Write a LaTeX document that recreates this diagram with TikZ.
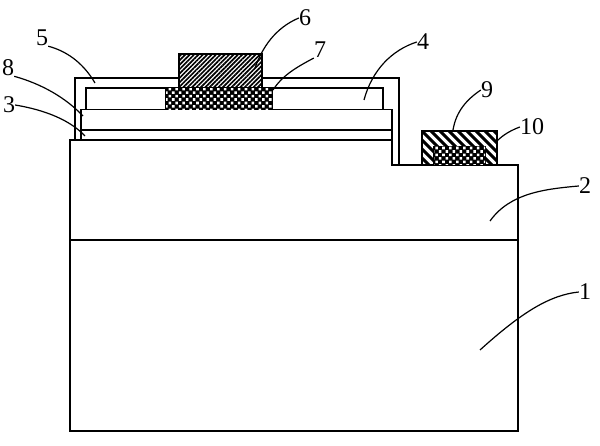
\documentclass[tikz,border=0pt]{standalone}
\usepackage{fontspec}
\setmainfont{Liberation Serif}
\usetikzlibrary{patterns.meta}
\tikzset{
  outline/.style={draw=black,line width=1.5pt,line join=miter},
  num/.style={font=\fontsize{24}{24}\selectfont,inner sep=0pt,text=black},
  leader/.style={draw=black,line width=1.2pt},
  hatchfine/.style={fill=white,postaction={pattern={Lines[angle=45,distance=3.1pt,line width=1.7pt]},pattern color=black}},
  hatchline/.style={draw=black,line width=3pt},
  checker/.style={fill=black,postaction={pattern={Dots[distance=4.9pt,angle=45,radius=1.8pt]},pattern color=white}}
}
\begin{document}
\begin{tikzpicture}[x=1pt,y=-1pt]
\useasboundingbox (0,0) rectangle (600,446);
% body
\draw[outline] (70,140) -- (392,140) -- (392,165) -- (518,165) -- (518,431) -- (70,431) -- cycle;
\draw[outline] (70,240) -- (518,240);
% layers
\draw[outline] (81,139) -- (81,109.5) -- (392,109.5) -- (392,140);
\draw[outline] (81,130) -- (392,130);
% covering layers
\draw[outline] (75,139) -- (75,78) -- (399,78) -- (399,165);
\draw[outline] (86,109) -- (86,88) -- (383,88) -- (383,109);
% electrodes
\draw[outline,hatchfine] (179,54) rectangle (262,88);
\draw[outline,checker] (166,88.5) rectangle (272,109.5);
\fill[white] (422,131) rectangle (497,165);
\begin{scope}
  \clip (422,131) rectangle (497,165);
  \foreach \hx in {386,395,...,503} {
    \draw[hatchline] (\hx,131) -- (\hx+34,165);
  }
\end{scope}
\draw[line width=2pt] (422,131) rectangle (497,165);
\draw[line width=2pt,checker] (434,147) rectangle (485,165);
% labels
\node[num] (n1) at (585,292) {1};
\node[num] (n2) at (585,186) {2};
\node[num] (n3) at (9,105) {3};
\node[num] (n4) at (423,42) {4};
\node[num] (n5) at (42,38) {5};
\node[num] (n6) at (305,18) {6};
\node[num] (n7) at (320,50) {7};
\node[num] (n8) at (8,68) {8};
\node[num] (n9) at (487,90) {9};
\node[num] (n10) at (532,127) {10};
% leader ends
\coordinate (e1) at (480,350);
\coordinate (e2) at (490,221);
\coordinate (e3) at (85,136);
\coordinate (e4) at (364,100);
\coordinate (e5) at (95,83);
\coordinate (e6) at (255,68);
\coordinate (e7) at (273,90);
\coordinate (e8) at (83,116);
\coordinate (e9) at (453,130);
\coordinate (e10) at (497,141);
% leaders
\draw[leader] (n1.west) .. controls (550,295) and (522,312) .. (e1);
\draw[leader] (n2.west) .. controls (545,189) and (510,193) .. (e2);
\draw[leader] (n3.east) .. controls (45,110) and (70,120) .. (e3);
\draw[leader] (n4.west) .. controls (392,50) and (372,70) .. (e4);
\draw[leader] (n5.south east) .. controls (70,52) and (85,66) .. (e5);
\draw[leader] (n6.west) .. controls (275,28) and (262,48) .. (e6);
\draw[leader] (n7.south west) .. controls (295,68) and (282,76) .. (e7);
\draw[leader] (n8.south east) .. controls (42,84) and (66,98) .. (e8);
\draw[leader] (n9.west) .. controls (466,100) and (456,112) .. (e9);
\draw[leader] (n10.west) .. controls (512,130) and (504,134) .. (e10);
\end{tikzpicture}
\end{document}
